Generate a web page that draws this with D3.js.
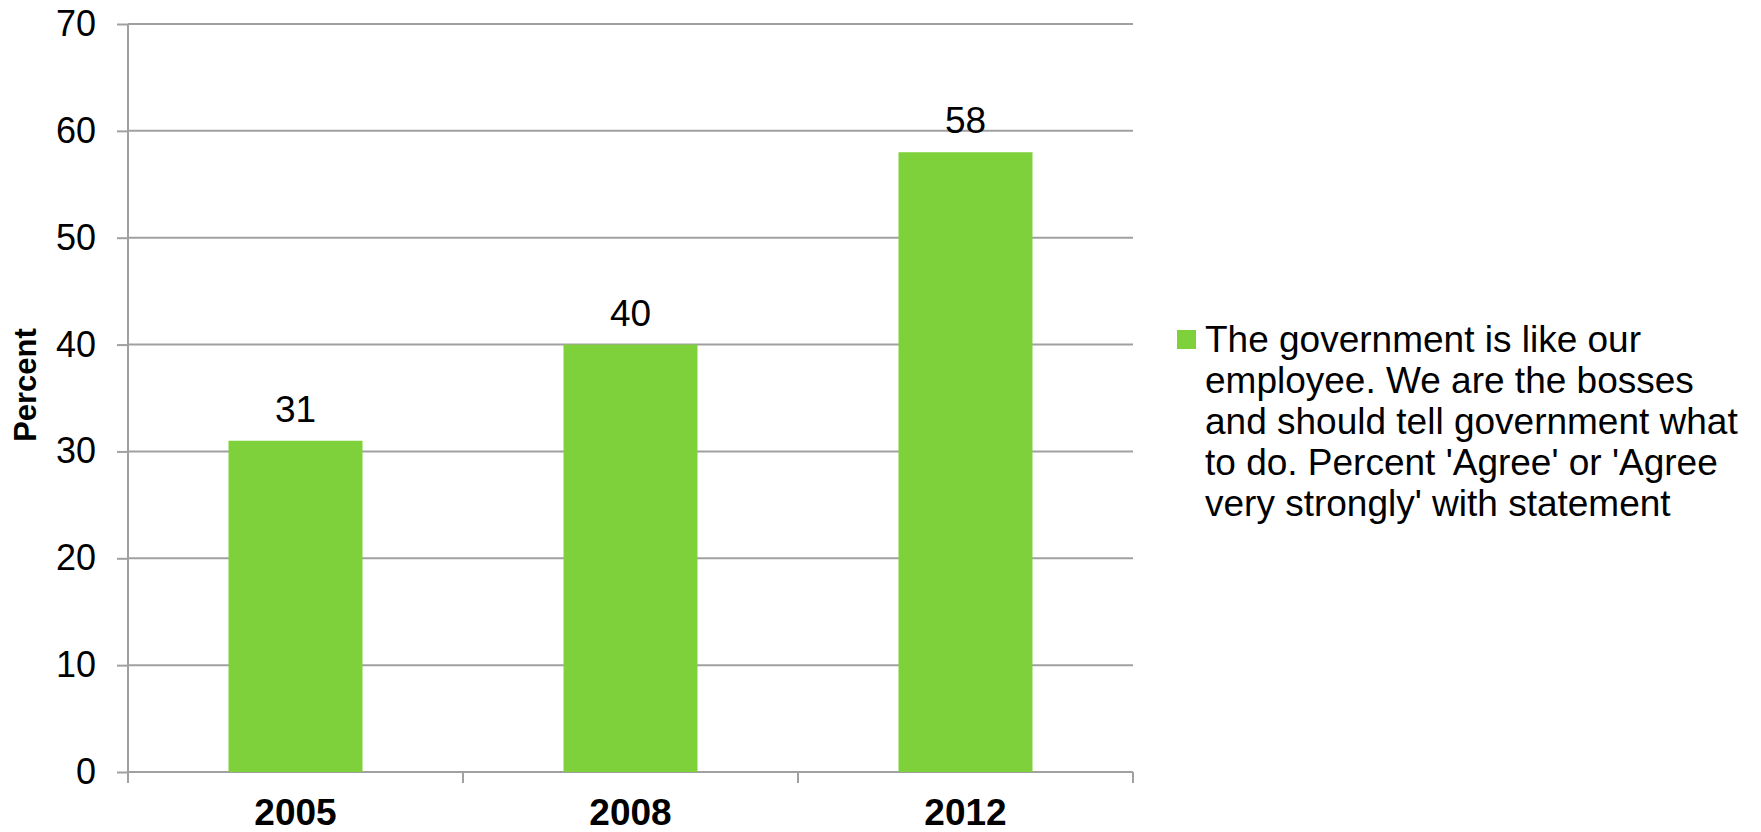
<!DOCTYPE html>
<html>
<head>
	<title>Government as employee</title>
	<script src="https://d3js.org/d3.v7.min.js"></script>
	<style>
		body { margin: 0; background: #fff; }
		text { font-family: "Liberation Sans", Arial, sans-serif; fill: #000; }
	</style>
</head>
<body>
	<div id="chart"></div>
	<script>
		// data
		var years = ["2005", "2008", "2012"];
		var agreeValues = [31, 40, 58];
		var yTicks = [0, 10, 20, 30, 40, 50, 60, 70];
		var legendLines = [
			"The government is like our",
			"employee. We are the bosses",
			"and should tell government what",
			"to do. Percent 'Agree' or 'Agree",
			"very strongly' with statement"
		];

		var width = 1761, height = 832;
		var margin = { top: 24, left: 128, right: 628, bottom: 60 };
		var barColor = "#7fd13b";
		var gridColor = "#a0a0a0";

		var svg = d3.select("#chart").append("svg")
			.attr("width", width)
			.attr("height", height);

		var x = d3.scaleBand()
			.domain(years)
			.range([margin.left, width - margin.right])
			.paddingInner(0.6)
			.paddingOuter(0.3);

		var y = d3.scaleLinear()
			.domain([0, 70])
			.range([height - margin.bottom, margin.top]);

		// y labels with the short tick marks left of the axis
		var yAxis = d3.axisLeft(y)
			.tickValues(yTicks)
			.tickSize(11)
			.tickPadding(21)
			.tickFormat(d3.format("d"));

		var gy = svg.append("g")
			.attr("transform", "translate(" + margin.left + ",0)")
			.call(yAxis);
		gy.select(".domain").remove();
		gy.selectAll(".tick line").attr("stroke", gridColor).attr("stroke-width", 2);
		gy.selectAll(".tick text").style("font-size", "36px");

		// horizontal gridlines
		svg.append("g").selectAll("line")
			.data(yTicks)
			.enter().append("line")
			.attr("x1", margin.left)
			.attr("x2", width - margin.right)
			.attr("y1", function (d) { return y(d); })
			.attr("y2", function (d) { return y(d); })
			.attr("stroke", gridColor)
			.attr("stroke-width", 2);

		// vertical axis line
		svg.append("line")
			.attr("x1", margin.left).attr("x2", margin.left)
			.attr("y1", y(70)).attr("y2", y(0))
			.attr("stroke", gridColor).attr("stroke-width", 2);

		// category boundary ticks under the baseline
		var bounds = d3.range(years.length + 1).map(function (i) {
			return margin.left + i * (width - margin.right - margin.left) / years.length;
		});
		svg.append("g").selectAll("line")
			.data(bounds)
			.enter().append("line")
			.attr("x1", function (d) { return d; })
			.attr("x2", function (d) { return d; })
			.attr("y1", y(0))
			.attr("y2", y(0) + 11)
			.attr("stroke", gridColor)
			.attr("stroke-width", 2);

		// bars
		svg.append("g").selectAll("rect")
			.data(agreeValues)
			.enter().append("rect")
			.attr("x", function (d, i) { return x(years[i]); })
			.attr("width", x.bandwidth())
			.attr("y", function (d) { return y(d); })
			.attr("height", function (d) { return y(0) - y(d); })
			.attr("fill", barColor);

		// value labels
		svg.append("g").selectAll("text")
			.data(agreeValues)
			.enter().append("text")
			.attr("x", function (d, i) { return x(years[i]) + x.bandwidth() / 2; })
			.attr("y", function (d) { return y(d) - 19; })
			.attr("text-anchor", "middle")
			.style("font-size", "37px")
			.text(function (d) { return d; });

		// year labels
		svg.append("g").selectAll("text")
			.data(years)
			.enter().append("text")
			.attr("x", function (d) { return x(d) + x.bandwidth() / 2; })
			.attr("y", 825)
			.attr("text-anchor", "middle")
			.style("font-size", "37px")
			.style("font-weight", "bold")
			.text(function (d) { return d; });

		// y axis title
		svg.append("text")
			.attr("transform", "translate(36,385) rotate(-90)")
			.attr("text-anchor", "middle")
			.style("font-size", "31px")
			.style("font-weight", "bold")
			.text("Percent");

		// legend
		svg.append("rect")
			.attr("x", 1177).attr("y", 330)
			.attr("width", 19).attr("height", 19)
			.attr("fill", barColor);

		svg.append("g").selectAll("text")
			.data(legendLines)
			.enter().append("text")
			.attr("x", 1205)
			.attr("y", function (d, i) { return 352 + i * 41; })
			.style("font-size", "37px")
			.text(function (d) { return d; });
	</script>
</body>
</html>
